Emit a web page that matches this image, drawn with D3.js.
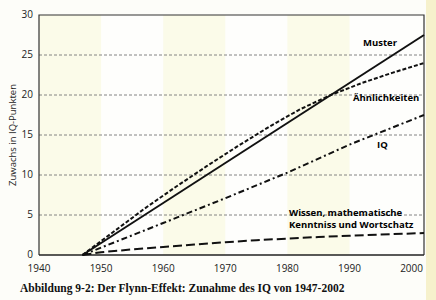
<!DOCTYPE html>
<html>
<head>
<meta charset="utf-8">
<script src="https://cdn.jsdelivr.net/npm/d3@7"></script>
<style>
  body { margin: 0; background: #fdfdf9; }
  .tick-label { font-family: "Open Sans", sans-serif; font-size: 10px; fill: #222; }
  .series-label { font-family: "Open Sans", sans-serif; font-size: 9.5px; font-weight: bold; fill: #000; }
</style>
</head>
<body>
<div id="chart"></div>
<script>
// data
var years_muster = [1947, 2002],
    muster = [0, 27.5];

var years_aehnl = [1947, 1952, 1957, 1962, 1967, 1972, 1977, 1982, 1987, 1992, 1997, 2002],
    aehnl = [0, 2.9, 5.8, 8.5, 11.1, 13.6, 16.0, 18.2, 20.0, 21.5, 22.8, 24.0];

var years_iq = [1947, 1960, 1970, 1980, 1990, 2002],
    iq = [0, 4.0, 7.1, 10.3, 13.8, 17.5];

var years_wissen = [1947, 1950, 1955, 1960, 1965, 1970, 1975, 1980, 1985, 1990, 1995, 2002],
    wissen = [0, 0.35, 0.7, 1.0, 1.3, 1.6, 1.85, 2.05, 2.25, 2.4, 2.55, 2.75];

var xticks = [1940, 1950, 1960, 1970, 1980, 1990, 2000],
    yticks = [0, 5, 10, 15, 20, 25, 30],
    gridvals = [5, 10, 15, 20, 25],
    bands = [[1940, 1950], [1960, 1970], [1980, 1990]];

// setup dimensions
var width = 436, height = 300;

var svg = d3.select("#chart").append("svg")
  .attr("width", width)
  .attr("height", height);

// setup scales
var x = d3.scaleLinear().domain([1940, 2002]).range([39, 424]);
var y = d3.scaleLinear().domain([0, 30]).range([255, 15]);

// scan edge on the right
svg.append("rect")
  .attr("x", 426).attr("y", 0)
  .attr("width", 10).attr("height", height)
  .attr("fill", "#f6f1cc");

// plot background
svg.append("rect")
  .attr("x", x(1940)).attr("y", y(30))
  .attr("width", x(2002) - x(1940)).attr("height", y(0) - y(30))
  .attr("fill", "#fefefc");

svg.selectAll("rect.band")
  .data(bands)
  .enter().append("rect")
  .attr("class", "band")
  .attr("x", function(d) { return x(d[0]); })
  .attr("y", y(30))
  .attr("width", function(d) { return x(d[1]) - x(d[0]); })
  .attr("height", y(0) - y(30))
  .attr("fill", "#fbfbe9");

// grid lines
svg.selectAll("line.grid")
  .data(gridvals)
  .enter().append("line")
  .attr("class", "grid")
  .attr("x1", x(1940)).attr("x2", x(2002))
  .attr("y1", function(d) { return y(d); })
  .attr("y2", function(d) { return y(d); })
  .attr("stroke", "#777")
  .attr("stroke-width", 0.9)
  .attr("stroke-dasharray", "3,2");

// frame
svg.append("path")
  .attr("d", "M" + x(1940) + "," + y(0) + "V" + y(30) + "H" + x(2002) + "V" + y(0))
  .attr("fill", "none")
  .attr("stroke", "#333")
  .attr("stroke-width", 1.2);
svg.append("line")
  .attr("x1", x(1940)).attr("x2", x(2002))
  .attr("y1", y(0)).attr("y2", y(0))
  .attr("stroke", "#222")
  .attr("stroke-width", 1.6);

// tick labels
svg.selectAll("text.xt")
  .data(xticks)
  .enter().append("text")
  .attr("class", "tick-label")
  .attr("x", function(d) { return x(d); })
  .attr("y", 272)
  .attr("text-anchor", "middle")
  .text(function(d) { return d; });

svg.selectAll("text.yt")
  .data(yticks)
  .enter().append("text")
  .attr("class", "tick-label")
  .attr("x", 33)
  .attr("y", function(d) { return y(d) + 3; })
  .attr("text-anchor", "end")
  .text(function(d) { return d; });

// axis title
svg.append("text")
  .attr("class", "tick-label")
  .attr("transform", "translate(13," + y(15) + ") rotate(-90)")
  .attr("dy", "0.35em")
  .attr("text-anchor", "middle")
  .style("font-size", "9.5px")
  .text("Zuwachs in IQ-Punkten");

// lines
var line = d3.line()
  .x(function(d) { return x(d[0]); })
  .y(function(d) { return y(d[1]); });

var series = [
  {yr: years_wissen, v: wissen, dash: "9,4"},
  {yr: years_iq, v: iq, dash: "6,3,2,3"},
  {yr: years_aehnl, v: aehnl, dash: "4,2"},
  {yr: years_muster, v: muster, dash: null}
];

svg.selectAll("path.series")
  .data(series)
  .enter().append("path")
  .attr("class", "series")
  .attr("d", function(s) { return line(d3.zip(s.yr, s.v)); })
  .attr("fill", "none")
  .attr("stroke", "#111")
  .attr("stroke-width", 2)
  .attr("stroke-dasharray", function(s) { return s.dash; });

// series labels
var labels = [
  {t: "Muster", x: 363, y: 46},
  {t: "Ähnlichkeiten", x: 353, y: 101},
  {t: "IQ", x: 377, y: 148},
  {t: "Wissen, mathematische", x: 289, y: 216},
  {t: "Kenntniss und Wortschatz", x: 289, y: 228}
];
svg.selectAll("text.sl")
  .data(labels)
  .enter().append("text")
  .attr("class", "series-label")
  .attr("x", function(d) { return d.x; })
  .attr("y", function(d) { return d.y; })
  .text(function(d) { return d.t; });

// caption
svg.append("text")
  .attr("x", 20)
  .attr("y", 292)
  .attr("font-family", "Liberation Serif, serif")
  .attr("font-weight", "bold")
  .attr("font-size", "11.5px")
  .attr("fill", "#111")
  .text("Abbildung 9-2: Der Flynn-Effekt: Zunahme des IQ von 1947-2002");
</script>
</body>
</html>
